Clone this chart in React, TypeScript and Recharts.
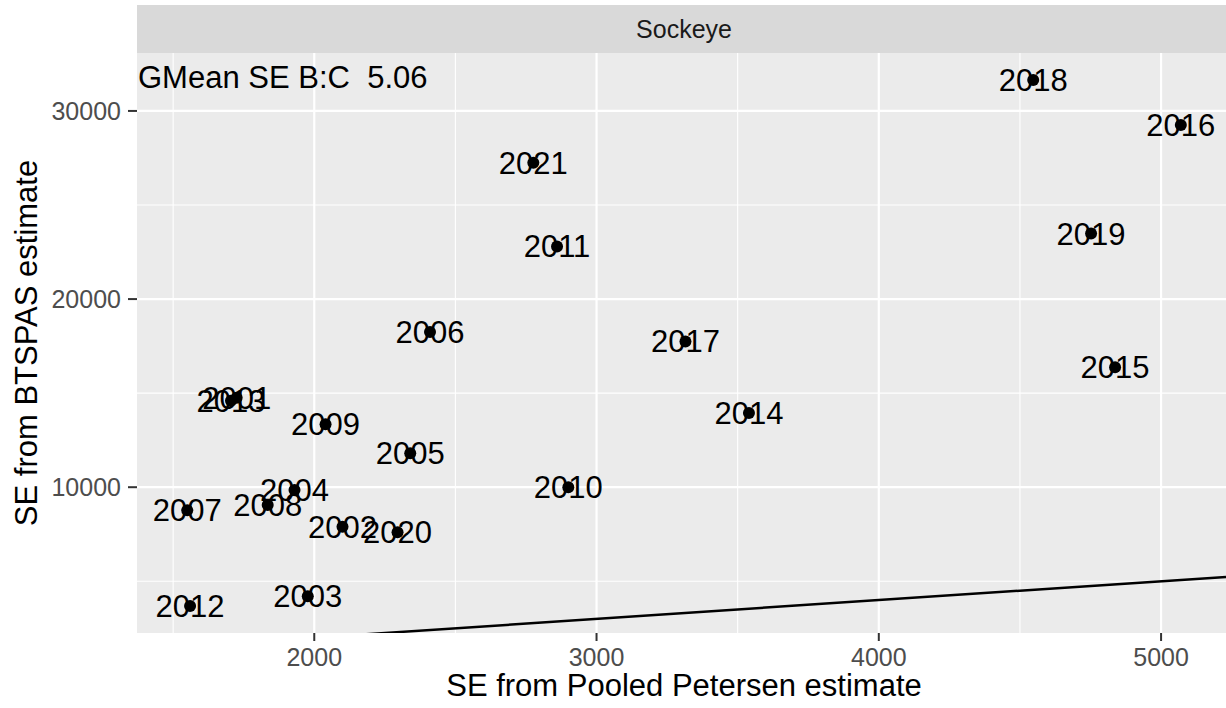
import React from 'react'
import {
  ScatterChart,
  Scatter,
  XAxis,
  YAxis,
  CartesianGrid,
  ReferenceLine,
  LabelList,
} from 'recharts'

// run years, pooled Petersen SE and BTSPAS SE for each run
const years = [
  2001, 2002, 2003, 2004, 2005, 2006, 2007, 2008, 2009, 2010, 2011,
  2012, 2013, 2014, 2015, 2016, 2017, 2018, 2019, 2020, 2021,
]
const sePooled = [
  1725, 2100, 1977, 1930, 2340, 2410, 1550, 1835, 2040, 2900, 2860,
  1560, 1705, 3540, 4837, 5070, 3315, 4547, 4752, 2295, 2776,
]
const seBtspas = [
  14750, 7900, 4200, 9850, 11800, 18250, 8780, 9050, 13350, 10000, 22800,
  3680, 14600, 13950, 16370, 29250, 17750, 31650, 23480, 7600, 27250,
]

const xTicks = [2000, 3000, 4000, 5000]
const xMinor = [1500, 2500, 3500, 4500]
const yTicks = [10000, 20000, 30000]
const yMinor = [5000, 15000, 25000]

const xDomain: [number, number] = [1372, 5230]
const yDomain: [number, number] = [2250, 33080]

const panelName = 'Sockeye'
const gmeanText = 'GMean SE B:C  5.06'

const font = '"Liberation Sans", Arial, Helvetica, sans-serif'

const points = years.map((year, i) => ({
  year,
  x: sePooled[i],
  y: seBtspas[i],
}))

const Dot = (props: any) => (
  <circle cx={props.cx} cy={props.cy} r={6} fill="#000000" />
)

export default function App() {
  return (
    <div
      style={{
        position: 'absolute',
        left: 0,
        top: 0,
        width: 1226,
        height: 708,
        overflow: 'hidden',
        background: '#ffffff',
        fontFamily: font,
      }}
    >
      <ScatterChart
        width={1226}
        height={708}
        margin={{ top: 53, right: 0, bottom: 0, left: 0 }}
      >
        <CartesianGrid
          fill="#EBEBEB"
          stroke="#FFFFFF"
          strokeWidth={1.1}
          horizontalValues={yMinor}
          verticalValues={xMinor}
        />
        <CartesianGrid
          fillOpacity={0}
          stroke="#FFFFFF"
          strokeWidth={2.2}
          horizontalValues={yTicks}
          verticalValues={xTicks}
        />
        <XAxis
          type="number"
          dataKey="x"
          domain={xDomain}
          ticks={xTicks}
          allowDataOverflow
          height={75}
          axisLine={false}
          tickSize={8}
          tickMargin={7}
          tickLine={{ stroke: '#333333', strokeWidth: 2 }}
          tick={{ fill: '#4D4D4D', fontSize: 25, fontFamily: font }}
        />
        <YAxis
          type="number"
          dataKey="y"
          domain={yDomain}
          ticks={yTicks}
          allowDataOverflow
          width={137}
          axisLine={false}
          tickSize={9}
          tickMargin={7}
          tickLine={{ stroke: '#333333', strokeWidth: 2 }}
          tick={{ fill: '#4D4D4D', fontSize: 25, fontFamily: font }}
        />
        {/* 1:1 line, clipped to the panel */}
        <ReferenceLine
          segment={[
            { x: xDomain[0], y: xDomain[0] },
            { x: xDomain[1], y: xDomain[1] },
          ]}
          ifOverflow="hidden"
          stroke="#000000"
          strokeWidth={2.5}
        />
        <Scatter data={points} shape={Dot} isAnimationActive={false}>
          <LabelList
            dataKey="year"
            position="center"
            fill="#000000"
            fontSize={31}
            fontFamily={font}
          />
        </Scatter>
      </ScatterChart>

      {/* facet strip */}
      <div
        style={{
          position: 'absolute',
          left: 137,
          top: 5,
          width: 1094,
          height: 48,
          background: '#D9D9D9',
          color: '#1A1A1A',
          fontSize: 25,
          lineHeight: '48px',
          textAlign: 'center',
        }}
      >
        {panelName}
      </div>

      <div
        style={{
          position: 'absolute',
          left: 138,
          top: 60,
          fontSize: 31,
          lineHeight: '36px',
          color: '#000000',
          whiteSpace: 'pre',
        }}
      >
        {gmeanText}
      </div>

      <div
        style={{
          position: 'absolute',
          left: 137,
          top: 668,
          width: 1094,
          textAlign: 'center',
          fontSize: 31,
          lineHeight: '36px',
          color: '#000000',
        }}
      >
        SE from Pooled Petersen estimate
      </div>

      <div
        style={{
          position: 'absolute',
          left: 27,
          top: 343,
          width: 0,
          height: 0,
        }}
      >
        <div
          style={{
            position: 'absolute',
            left: -300,
            top: -18,
            width: 600,
            textAlign: 'center',
            fontSize: 31,
            lineHeight: '36px',
            color: '#000000',
            transform: 'rotate(-90deg)',
            whiteSpace: 'nowrap',
          }}
        >
          SE from BTSPAS estimate
        </div>
      </div>
    </div>
  )
}
